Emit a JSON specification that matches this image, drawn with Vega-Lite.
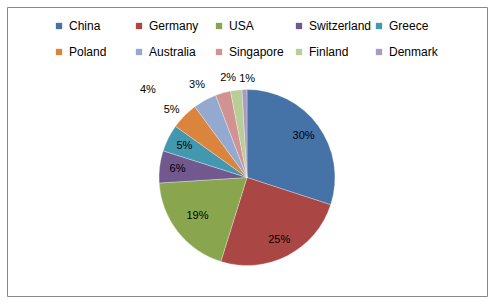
{
  "$schema": "https://vega.github.io/schema/vega-lite/v6.json",
  "width": 501,
  "height": 307,
  "autosize": {"type": "fit", "contains": "padding"},
  "padding": {"left": 7, "top": 7, "right": 14, "bottom": 11},
  "background": "white",
  "view": {"stroke": "#888888", "strokeWidth": 1, "fill": "white"},
  "config": {
    "view": {"stroke": "#888888", "strokeWidth": 1},
    "font": "Liberation Sans"
  },
  "data": {
    "values": [
      {"country": "China", "share": 0.300, "rank": 1},
      {"country": "Germany", "share": 0.248, "rank": 2},
      {"country": "USA", "share": 0.192, "rank": 3},
      {"country": "Switzerland", "share": 0.059, "rank": 4},
      {"country": "Greece", "share": 0.050, "rank": 5},
      {"country": "Poland", "share": 0.050, "rank": 6},
      {"country": "Australia", "share": 0.043, "rank": 7},
      {"country": "Singapore", "share": 0.028, "rank": 8},
      {"country": "Finland", "share": 0.021, "rank": 9},
      {"country": "Denmark", "share": 0.009, "rank": 10}
    ]
  },
  "encoding": {
    "theta": {"field": "share", "type": "quantitative", "stack": true},
    "order": {"field": "rank", "type": "quantitative"}
  },
  "layer": [
    {
      "mark": {"type": "arc", "radius": 88, "stroke": "#ffffff", "strokeWidth": 0.5, "strokeOpacity": 0.6,
               "x": {"expr": "width/2"}, "y": {"expr": "height/2 + 26"}},
      "encoding": {
        "color": {
          "field": "country",
          "type": "nominal",
          "scale": {
            "domain": ["China", "Germany", "USA", "Switzerland", "Greece", "Poland", "Australia", "Singapore", "Finland", "Denmark"],
            "range": ["#4572A7", "#AA4643", "#89A54E", "#71588F", "#4198AF", "#DB843D", "#93A9CF", "#D19392", "#B9CD96", "#A99BBD"]
          },
          "legend": {
            "title": null,
            "orient": "none",
            "legendX": 46,
            "legendY": 13,
            "direction": "horizontal",
            "columns": 5,
            "gridAlign": "all",
            "columnPadding": 1,
            "rowPadding": 14,
            "padding": 0,
            "symbolType": "square",
            "symbolSize": 40,
            "symbolStrokeWidth": 0,
            "labelFont": "Liberation Sans",
            "labelFontSize": 12,
            "labelColor": "#000000",
            "labelOffset": 4,
            "labelLimit": 200
          }
        }
      }
    },
    {
      "mark": {"type": "text", "radius": 70, "fontSize": 11, "font": "Liberation Sans", "color": "#000000",
               "align": "center", "baseline": "middle",
               "x": {"expr": "width/2"}, "y": {"expr": "height/2 + 26"}},
      "encoding": {
        "text": {"condition": {"test": "datum.rank == 1 || datum.rank == 2 || datum.rank == 4 || datum.rank == 5", "field": "share", "format": ".0%"}, "value": ""}
      }
    },
    {
      "mark": {"type": "text", "radius": 63, "fontSize": 11, "font": "Liberation Sans", "color": "#000000",
               "align": "center", "baseline": "middle",
               "x": {"expr": "width/2"}, "y": {"expr": "height/2 + 26"}},
      "encoding": {
        "text": {"condition": {"test": "datum.rank == 3", "field": "share", "format": ".0%"}, "value": ""}
      }
    },
    {
      "mark": {"type": "text", "radius": 101, "thetaOffset": -0.05, "fontSize": 11, "font": "Liberation Sans", "color": "#000000",
               "align": "center", "baseline": "middle",
               "x": {"expr": "width/2"}, "y": {"expr": "height/2 + 26"}},
      "encoding": {
        "text": {"condition": {"test": "datum.rank == 6", "field": "share", "format": ".0%"}, "value": ""}
      }
    },
    {
      "mark": {"type": "text", "radius": 101, "thetaOffset": -0.065, "fontSize": 11, "font": "Liberation Sans", "color": "#000000",
               "align": "center", "baseline": "middle",
               "x": {"expr": "width/2"}, "y": {"expr": "height/2 + 26"}},
      "encoding": {
        "text": {"condition": {"test": "datum.rank == 9", "field": "share", "format": ".0%"}, "value": ""}
      }
    },
    {
      "mark": {"type": "text", "radius": 99, "thetaOffset": 0.03, "fontSize": 11, "font": "Liberation Sans", "color": "#000000",
               "align": "center", "baseline": "middle",
               "x": {"expr": "width/2"}, "y": {"expr": "height/2 + 26"}},
      "encoding": {
        "text": {"condition": {"test": "datum.rank == 10", "field": "share", "format": ".0%"}, "value": ""}
      }
    },
    {
      "mark": {"type": "text", "radius": 105, "thetaOffset": -0.22, "fontSize": 11, "font": "Liberation Sans", "color": "#000000",
               "align": "center", "baseline": "middle",
               "x": {"expr": "width/2"}, "y": {"expr": "height/2 + 26"}},
      "encoding": {
        "text": {"condition": {"test": "datum.rank == 8", "field": "share", "format": ".0%"}, "value": ""}
      }
    },
    {
      "mark": {"type": "text", "radius": 132, "thetaOffset": -0.35, "fontSize": 11, "font": "Liberation Sans", "color": "#000000",
               "align": "center", "baseline": "middle",
               "x": {"expr": "width/2"}, "y": {"expr": "height/2 + 26"}},
      "encoding": {
        "text": {"condition": {"test": "datum.rank == 7", "field": "share", "format": ".0%"}, "value": ""}
      }
    }
  ]
}
